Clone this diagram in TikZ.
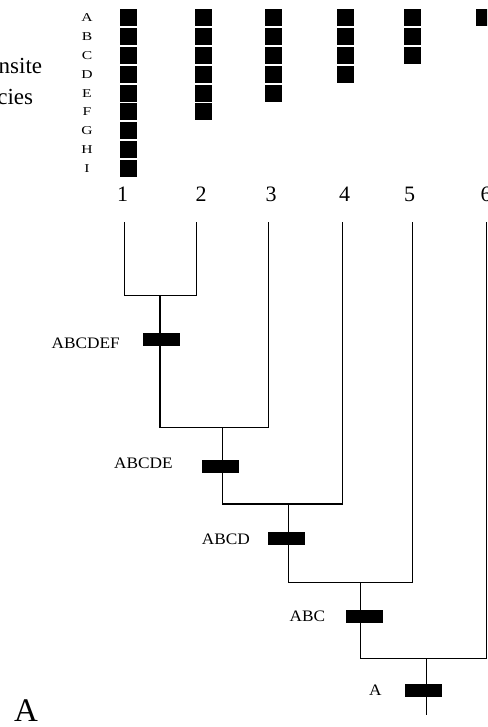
\documentclass[tikz,border=0pt]{standalone}
\usepackage{fontspec}
\setmainfont{Liberation Serif}
\begin{document}
\begin{tikzpicture}[x=1pt,y=-1pt,
  sq/.style={fill=black,draw=none,minimum width=17pt,minimum height=17pt,inner sep=0pt},
  bar/.style={fill=black,draw=none,minimum width=37pt,minimum height=13pt,inner sep=0pt},
  rowlab/.style={inner sep=0pt,font=\fontsize{12}{12}\selectfont,xscale=1.3},
  numlab/.style={inner sep=0pt,font=\fontsize{22}{22}\selectfont},
  cladelab/.style={inner sep=0pt,anchor=east,font=\fontsize{16}{16}\selectfont,xscale=1.08},
  sidelab/.style={inner sep=0pt,anchor=base east,font=\fontsize{23}{23}\selectfont},
  branch/.style={line width=1.2pt}]
\useasboundingbox (0,0) rectangle (487,727);
\clip (0,0) rectangle (487,727);
% side text (cut off by the frame)
\node[sidelab] (s1) at (42.3,74) {nsite};
\node[sidelab] (s2) at (33.3,105) {cies};
% row letters
\foreach \l [count=\r from 0] in {A,B,C,D,E,F,G,H,I}
  \node[rowlab] (row\l) at (87,{17.5+18.9*\r}) {\l};
% character squares
\foreach \cx/\n [count=\c] in {128.3/9,203.2/6,273.7/5,345.5/4,412.7/3,484.5/1}
  \foreach \r in {1,...,\n}
    \node[sq] (sq\c-\r) at (\cx,{17.5+18.9*(\r-1)}) {};
% taxon numbers
\foreach \nx [count=\c] in {122.5,201,271,344.5,409.5,486}
  \node[numlab] (num\c) at (\nx,194.5) {\c};
% tree coordinates
\coordinate (t1) at (124.3,222);
\coordinate (t2) at (196.3,222);
\coordinate (t3) at (268.7,222);
\coordinate (t4) at (342.3,222);
\coordinate (t5) at (412.7,222);
\coordinate (t6) at (486.5,222);
\coordinate (j1) at (160,295.3);
\coordinate (j2) at (222.5,427.7);
\coordinate (j3) at (288.7,504);
\coordinate (j4) at (360.7,582.3);
\coordinate (j5) at (426.7,658.7);
\coordinate (root) at (426.7,715);
\draw[branch] (t1) |- (j1) -| (t2);
\draw[branch] (j1) |- (j2) -| (t3);
\draw[branch] (j2) |- (j3) -| (t4);
\draw[branch] (j3) |- (j4) -| (t5);
\draw[branch] (j4) |- (j5) -| (t6);
\draw[branch] (j5) -- (root);
% synapomorphy bars
\node[bar] (b1) at (161,339.5) {};
\node[bar] (b2) at (220.3,466) {};
\node[bar] (b3) at (286.5,538.3) {};
\node[bar] (b4) at (364.7,616.7) {};
\node[bar] (b5) at (423.7,690.7) {};
% clade labels
\node[cladelab] (l1) at (120,343) {ABCDEF};
\node[cladelab] (l2) at (173,463.5) {ABCDE};
\node[cladelab] (l3) at (250,539) {ABCD};
\node[cladelab] (l4) at (325.3,616) {ABC};
\node[cladelab] (l5) at (381.7,690.7) {A};
% panel letter
\node[inner sep=0pt,font=\fontsize{33}{33}\selectfont] (panel) at (26,710.5) {A};
\end{tikzpicture}
\end{document}
